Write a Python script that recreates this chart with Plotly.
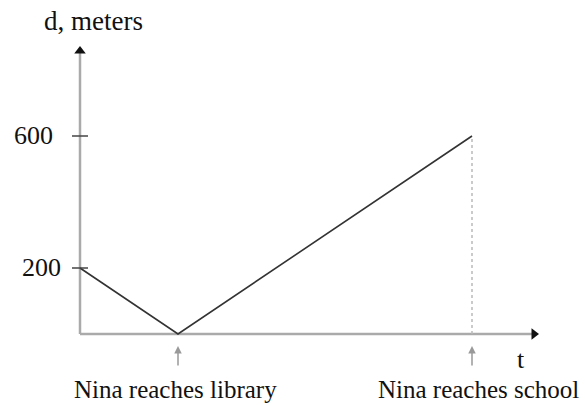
import plotly.graph_objects as go

# ---- data ----
t_values = [0, 1, 4]            # time (library at t=1, school at t=4)
d_values = [200, 0, 600]        # distance, meters
y_tick_values = [200, 600]
y_tick_labels = ["200", "600"]
event_t = [1, 4]
event_labels = ["Nina reaches library", "Nina reaches school"]
y_title = "d, meters"
x_title = "t"

W, H = 585, 406
FONT = "Liberation Serif, Times New Roman, serif"

# axis ranges chosen so that the figure fills the page
x_range = [-80 / 98, -80 / 98 + W / 98]
y_range = [-(H - 334) / 0.33, 334 / 0.33]
px_x = 1 / 98          # data units per pixel (x)
px_y = 1 / 0.33        # data units per pixel (y)

fig = go.Figure()

# distance line
fig.add_trace(go.Scatter(x=t_values, y=d_values, mode="lines",
                         line=dict(color="#333333", width=1.6),
                         hoverinfo="skip", showlegend=False))

# dotted guide at school arrival
fig.add_trace(go.Scatter(x=[t_values[-1], t_values[-1]], y=[0, d_values[-1]], mode="lines",
                         line=dict(color="#bbbbbb", width=1.5, dash="dot"),
                         hoverinfo="skip", showlegend=False))

# axes (gray lines)
y_top = (334 - 46) * px_y
x_end = (539 - 80) * px_x
fig.add_shape(type="line", x0=0, x1=0, y0=0, y1=y_top - 6 * px_y,
              line=dict(color="#aaaaaa", width=2.5), layer="below")
fig.add_shape(type="line", x0=0, x1=x_end - 6 * px_x, y0=0, y1=0,
              line=dict(color="#aaaaaa", width=2.5), layer="below")

# arrow heads
fig.add_trace(go.Scatter(x=[0], y=[y_top - 5 * px_y], mode="markers",
                         marker=dict(symbol="triangle-up", size=10, color="#111111"),
                         hoverinfo="skip", showlegend=False))
fig.add_trace(go.Scatter(x=[x_end - 5 * px_x], y=[0], mode="markers",
                         marker=dict(symbol="triangle-right", size=10, color="#111111"),
                         hoverinfo="skip", showlegend=False))

# y ticks
for v, lab, shift in zip(y_tick_values, y_tick_labels, [-17, -25]):
    fig.add_shape(type="line", xref="x", yref="y", xsizemode="pixel", xanchor=0,
                  x0=-8, x1=8, y0=v, y1=v, line=dict(color="#444444", width=1.5))
    fig.add_annotation(x=0, y=v, text=lab, showarrow=False, xanchor="right",
                       xshift=shift, yshift=1,
                       font=dict(family=FONT, size=26, color="#111111"))

# event arrows and labels
for t, lab, shift in zip(event_t, event_labels, [-3, 6]):
    fig.add_annotation(x=t, y=-12 * px_y, ax=0, ay=21, text="", showarrow=True,
                       arrowhead=2, arrowsize=1, arrowwidth=1.5, arrowcolor="#999999")
    fig.add_annotation(x=t, y=-55 * px_y, text=lab, showarrow=False, xshift=shift,
                       font=dict(family=FONT, size=25, color="#111111"))

# axis titles
fig.add_annotation(x=0, y=(334 - 21) * px_y, text=y_title, showarrow=False, xshift=13,
                   font=dict(family=FONT, size=27, color="#111111"))
fig.add_annotation(x=(521 - 80) * px_x, y=-25 * px_y, text=x_title, showarrow=False,
                   font=dict(family=FONT, size=26, color="#111111"))

fig.update_xaxes(range=x_range, visible=False, fixedrange=True)
fig.update_yaxes(range=y_range, visible=False, fixedrange=True)
fig.update_layout(width=W, height=H, margin=dict(l=0, r=0, t=0, b=0),
                  paper_bgcolor="white", plot_bgcolor="white", showlegend=False)

fig.write_html("out.html", config={"displayModeBar": False},
               post_script="document.body.style.margin='0px';document.body.style.overflow='hidden';")
